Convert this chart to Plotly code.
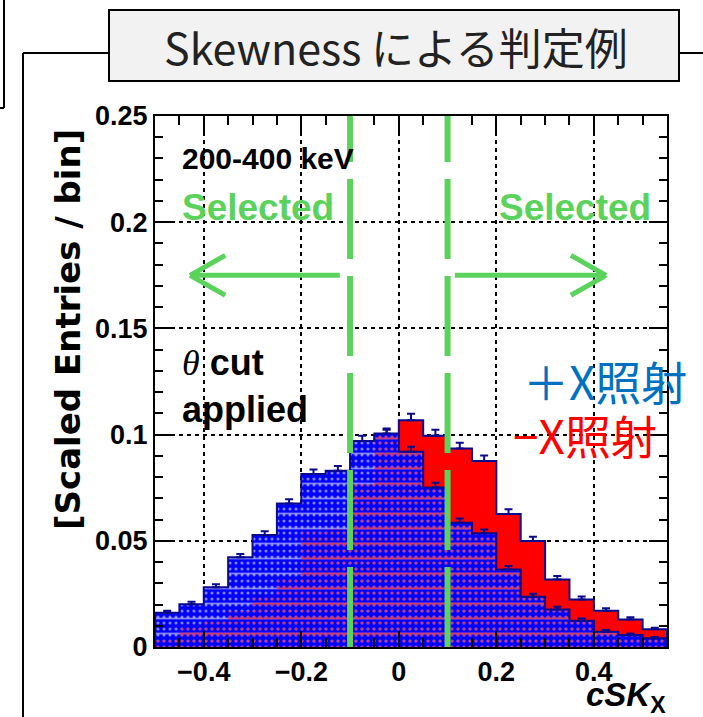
import plotly.graph_objects as go

# ---------------- data ----------------
bin_edges = [-0.50, -0.45, -0.40, -0.35, -0.30, -0.25, -0.20, -0.15, -0.10, -0.05, 0.00,
             0.05, 0.10, 0.15, 0.20, 0.25, 0.30, 0.35, 0.40, 0.45, 0.50, 0.55]
plus_x_values = [0.0161, 0.0201, 0.0281, 0.0422, 0.0527, 0.0676, 0.0814, 0.0830, 0.0970, 0.1005, 0.0919,
                 0.0751, 0.0585, 0.0535, 0.0365, 0.0237, 0.0177, 0.0124, 0.0072, 0.0056, 0.0041]
plus_x_errors = [0.0010, 0.0012, 0.0014, 0.0016, 0.0018, 0.0020, 0.0022, 0.0022, 0.0024, 0.0024, 0.0024,
                 0.0022, 0.0020, 0.0018, 0.0016, 0.0014, 0.0012, 0.0010, 0.0008, 0.0007, 0.0006]
minus_x_values = [0.0035, 0.0090, 0.0125, 0.0170, 0.0245, 0.0325, 0.0540, 0.0555, 0.0765, 0.0995, 0.1068,
                  0.0995, 0.0934, 0.0876, 0.0626, 0.0499, 0.0318, 0.0224, 0.0171, 0.0130, 0.0083]
minus_x_errors = [0.0006, 0.0010, 0.0012, 0.0014, 0.0016, 0.0018, 0.0022, 0.0022, 0.0026, 0.0028, 0.0030,
                  0.0028, 0.0028, 0.0026, 0.0022, 0.0020, 0.0016, 0.0014, 0.0012, 0.0010, 0.0008]
x_tick_vals = [-0.4, -0.2, 0.0, 0.2, 0.4]
x_tick_text = ["\u22120.4", "\u22120.2", "0", "0.2", "0.4"]
y_tick_vals = [0, 0.05, 0.10, 0.15, 0.20, 0.25]
y_tick_text = ["0", "0.05", "0.1", "0.15", "0.2", "0.25"]
cut_values = [-0.1, 0.1]

# ---------------- style ----------------
W, H = 703, 717
L, R, T, B = 155, 667, 116, 647
NAVY = "#0a0a8c"
GREEN = "#5bd25b"
RED = "#ff0000"
BLUE = "#0000ff"
PATTERNS = [dict(shape=".", size=6, solidity=0.22), dict(shape="-", size=15, solidity=0.12)]


def px(xp):
    return (xp - L) / (R - L)


def py(yp):
    return (B - yp) / (B - T)


centers = [(a + b) / 2 for a, b in zip(bin_edges[:-1], bin_edges[1:])]
overlap_values = [min(a, b) for a, b in zip(plus_x_values, minus_x_values)]


def step(vals):
    xs = [bin_edges[0]] + bin_edges[:-1] + [bin_edges[-1], bin_edges[-1]]
    ys = [0] + list(vals) + [vals[-1], 0]
    return xs, ys


def err_trace(vals, errs):
    return go.Scatter(x=centers, y=vals, mode="markers",
                      marker=dict(size=1, color="rgba(0,0,0,0)"),
                      error_y=dict(type="data", array=errs, arrayminus=[0] * len(centers),
                                   symmetric=False, color=NAVY, thickness=2, width=4),
                      hoverinfo="skip", showlegend=False)


def pattern_trace(xs, ys, color, pat):
    return go.Scatter(x=xs, y=ys, mode="lines", line=dict(color=BLUE, width=0, shape="hv"),
                      fill="toself", fillcolor="rgba(0,0,0,0)",
                      fillpattern=dict(fgcolor=color, bgcolor="rgba(0,0,0,0)", **pat),
                      hoverinfo="skip", showlegend=False)


fig = go.Figure()

# -X histogram (solid red)
rx, ry = step(minus_x_values)
fig.add_trace(go.Scatter(x=rx, y=ry, mode="lines", line=dict(color=NAVY, width=2, shape="hv"),
                         fill="toself", fillcolor=RED, hoverinfo="skip", showlegend=False))
fig.add_trace(err_trace(minus_x_values, minus_x_errors))

# +X histogram (blue with pattern; red shows through where -X lies beneath)
bx, by = step(plus_x_values)
fig.add_trace(go.Scatter(x=bx, y=by, mode="lines", line=dict(color=BLUE, width=0, shape="hv"),
                         fill="toself", fillcolor=BLUE, hoverinfo="skip", showlegend=False))
ox, oy = step(overlap_values)
for pat in PATTERNS:
    fig.add_trace(pattern_trace(bx, by, "white", pat))
for pat in PATTERNS:
    fig.add_trace(pattern_trace(ox, oy, RED, pat))
fig.add_trace(go.Scatter(x=bx, y=by, mode="lines", line=dict(color=NAVY, width=2, shape="hv"),
                         hoverinfo="skip", showlegend=False))
fig.add_trace(err_trace(plus_x_values, plus_x_errors))

tickfont = dict(family="Liberation Sans, Arial", size=27, color="black", weight="bold")
fig.update_xaxes(range=[bin_edges[0], bin_edges[-1]], tickvals=x_tick_vals, ticktext=x_tick_text,
                 ticks="inside", ticklen=16, tickwidth=1.5, tickcolor="black",
                 minor=dict(dtick=0.05, tick0=0, ticks="inside", ticklen=9, tickwidth=1.5,
                            tickcolor="black", showgrid=False),
                 showgrid=True, gridcolor="black", gridwidth=1.5, griddash="4px,4px",
                 showline=True, linecolor="black", linewidth=2, mirror="allticks",
                 tickfont=tickfont, zeroline=False)
fig.update_yaxes(range=[0, 0.25], tickvals=y_tick_vals, ticktext=y_tick_text,
                 ticks="inside", ticklen=18, tickwidth=1.5, tickcolor="black",
                 minor=dict(dtick=0.01, tick0=0, ticks="inside", ticklen=8, tickwidth=1.5,
                            tickcolor="black", showgrid=False),
                 showgrid=True, gridcolor="black", gridwidth=1.5, griddash="4px,4px",
                 showline=True, linecolor="black", linewidth=2, mirror="allticks",
                 tickfont=tickfont, zeroline=False)

shapes = []
# green cut lines
for c in cut_values:
    shapes.append(dict(type="line", xref="x", yref="y", x0=c, x1=c, y0=0, y1=0.25,
                       line=dict(color=GREEN, width=6, dash="80px,17px"), layer="above"))
# arrows
ay = 0.175
dx, dy = 0.072, 0.0094
for (x0, x1) in [(-0.121, -0.428), (0.115, 0.425)]:
    shapes.append(dict(type="line", xref="x", yref="y", x0=x0, x1=x1, y0=ay, y1=ay,
                       line=dict(color=GREEN, width=5), layer="above"))
    s = 1 if x1 < x0 else -1
    for sgn in (1, -1):
        shapes.append(dict(type="line", xref="x", yref="y", x0=x1, x1=x1 + s * dx, y0=ay, y1=ay + sgn * dy,
                           line=dict(color=GREEN, width=5), layer="above"))

# slide frame
shapes.append(dict(type="line", xref="paper", yref="paper", x0=px(23), x1=px(109), y0=py(53), y1=py(53),
                   line=dict(color="black", width=2)))
shapes.append(dict(type="line", xref="paper", yref="paper", x0=px(679), x1=px(703), y0=py(53), y1=py(53),
                   line=dict(color="black", width=2)))
shapes.append(dict(type="line", xref="paper", yref="paper", x0=px(23), x1=px(23), y0=py(53), y1=py(717),
                   line=dict(color="black", width=2)))
shapes.append(dict(type="line", xref="paper", yref="paper", x0=px(4), x1=px(4), y0=py(0), y1=py(108),
                   line=dict(color="black", width=2)))
shapes.append(dict(type="line", xref="paper", yref="paper", x0=px(0), x1=px(4), y0=py(108), y1=py(108),
                   line=dict(color="black", width=2)))
shapes.append(dict(type="rect", xref="paper", yref="paper", x0=px(109), x1=px(679), y0=py(81), y1=py(10),
                   line=dict(color="black", width=2), fillcolor="#f2f2f2"))

ann = []
ann.append(dict(text="Skewness による判定例", xref="paper", yref="paper", x=px(396), y=py(46),
                xanchor="center", yanchor="middle", showarrow=False,
                font=dict(family="Noto Sans CJK JP", size=43, color="#222222")))
ann.append(dict(text="[Scaled Entries / bin]", xref="paper", yref="paper", x=px(68), y=py(330),
                xanchor="center", yanchor="middle", showarrow=False, textangle=-90,
                font=dict(family="DejaVu Sans", size=34, color="black", weight="bold")))
ann.append(dict(text="<i>cSK</i><sub>X</sub>", xref="paper", yref="paper", x=px(668), y=py(697),
                xanchor="right", yanchor="middle", showarrow=False,
                font=dict(family="Liberation Sans", size=33, color="black", weight="bold")))
ann.append(dict(text="200-400 keV", xref="x", yref="y", x=-0.449, y=0.230, xanchor="left",
                yanchor="middle", showarrow=False,
                font=dict(family="Liberation Sans", size=30, color="black", weight="bold")))
for xl in (-0.449, 0.201):
    ann.append(dict(text="Selected", xref="x", yref="y", x=xl, y=0.207, xanchor="left",
                    yanchor="middle", showarrow=False,
                    font=dict(family="Liberation Sans", size=37, color=GREEN, weight="bold")))
ann.append(dict(text="<span style=\"font-family:'Liberation Serif';font-style:italic;font-weight:normal\">θ</span> cut<br>applied",
                xref="x", yref="y", x=-0.449, y=0.123, xanchor="left", yanchor="middle", align="left",
                showarrow=False, font=dict(family="Liberation Sans", size=36, color="black", weight="bold")))
ann.append(dict(text="＋X照射", xref="x", yref="y", x=0.250, y=0.1257, xanchor="left", yanchor="middle",
                showarrow=False, font=dict(family="Noto Sans CJK JP", size=46, color="#0070c0")))
ann.append(dict(text="−X照射", xref="x", yref="y", x=0.230, y=0.1003, xanchor="left", yanchor="middle",
                showarrow=False, font=dict(family="Noto Sans CJK JP", size=46, color=RED)))

fig.update_layout(width=W, height=H, margin=dict(l=L, r=W - R, t=T, b=H - B),
                  paper_bgcolor="white", plot_bgcolor="white", showlegend=False,
                  shapes=shapes, annotations=ann)

fig.write_html("out.html")
